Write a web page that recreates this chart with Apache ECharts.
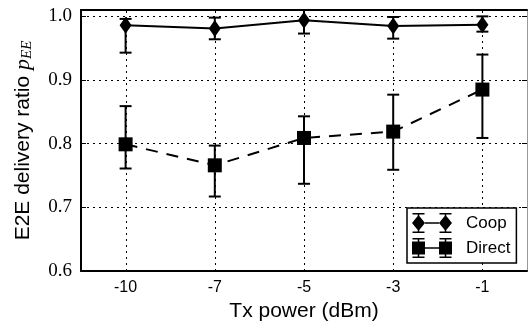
<!DOCTYPE html>
<html>
<head>
<meta charset="utf-8">
<script src="https://cdn.jsdelivr.net/npm/echarts@6/dist/echarts.min.js"></script>
<style>
  html, body { margin: 0; padding: 0; background: #fff; }
  #chart { width: 528px; height: 327px; }
</style>
</head>
<body>
<div id="chart"></div>
<script>
// Tx power levels (dBm)
const categories = ["-10", "-7", "-5", "-3", "-1"];

// Coop: mean and error bar ends
const coopMean = [0.986, 0.981, 0.994, 0.985, 0.987];
const coopLow = [0.943, 0.964, 0.973, 0.965, 0.976];
const coopHigh = [0.996, 0.998, 1.012, 0.999, 1.0];

// Direct: mean and error bar ends
const directMean = [0.799, 0.766, 0.809, 0.819, 0.885];
const directLow = [0.761, 0.717, 0.737, 0.759, 0.809];
const directHigh = [0.859, 0.797, 0.843, 0.877, 0.94];

const yMin = 0.6;
const yMax = 1.01;

const chart = echarts.init(document.getElementById("chart"));

// legend icons: marker - line - marker, with error bar caps
const coopIcon =
  "path://M0 10 L6.5 2 L13 10 L6.5 18 Z M27 10 L33.5 2 L40 10 L33.5 18 Z " +
  "M13 9.2 L27 9.2 L27 10.8 L13 10.8 Z " +
  "M0.5 0 L12.5 0 L12.5 1.5 L0.5 1.5 Z M27.5 0 L39.5 0 L39.5 1.5 L27.5 1.5 Z " +
  "M0.5 18.5 L12.5 18.5 L12.5 20 L0.5 20 Z M27.5 18.5 L39.5 18.5 L39.5 20 L27.5 20 Z " +
  "M5.75 0 L7.25 0 L7.25 20 L5.75 20 Z M32.75 0 L34.25 0 L34.25 20 L32.75 20 Z";
const directIcon =
  "path://M0 3.5 L13 3.5 L13 16.5 L0 16.5 Z M27 3.5 L40 3.5 L40 16.5 L27 16.5 Z " +
  "M13 9.2 L27 9.2 L27 10.8 L13 10.8 Z " +
  "M0.5 0 L12.5 0 L12.5 1.5 L0.5 1.5 Z M27.5 0 L39.5 0 L39.5 1.5 L27.5 1.5 Z " +
  "M0.5 18.5 L12.5 18.5 L12.5 20 L0.5 20 Z M27.5 18.5 L39.5 18.5 L39.5 20 L27.5 20 Z " +
  "M5.75 0 L7.25 0 L7.25 20 L5.75 20 Z M32.75 0 L34.25 0 L34.25 20 L32.75 20 Z";

function errorBars(params, api) {
  const i = api.value(0);
  const top = api.coord([i, api.value(2)]);
  const bot = api.coord([i, api.value(1)]);
  const w = 6;
  const st = { stroke: "#000", lineWidth: 2 };
  return {
    type: "group",
    children: [
      { type: "line", shape: { x1: top[0], y1: top[1], x2: bot[0], y2: bot[1] }, style: st },
      { type: "line", shape: { x1: top[0] - w, y1: top[1], x2: top[0] + w, y2: top[1] }, style: st },
      { type: "line", shape: { x1: bot[0] - w, y1: bot[1], x2: bot[0] + w, y2: bot[1] }, style: st },
    ],
  };
}

// dotted vertical grid line through each category
function vGrid(params, api) {
  const i = api.value(0);
  const a = api.coord([i, api.value(1)]);
  const b = api.coord([i, api.value(2)]);
  const x = Math.round(a[0]) + 0.5;
  return {
    type: "line",
    z2: 10,
    shape: { x1: x, y1: a[1], x2: x, y2: b[1] },
    style: { stroke: "#000", lineWidth: 1, lineDash: [2, 4], fill: null },
  };
}

const dotted = { color: "#000", width: 1, type: [2, 4] };

const option = {
  animation: false,
  grid: { left: 81, right: 1, top: 10, bottom: 56 },
  legend: {
    orient: "vertical",
    left: 407,
    top: 208,
    padding: [5, 6, 5, 5],
    itemWidth: 40,
    itemHeight: 20,
    itemGap: 5,
    borderColor: "#000",
    borderWidth: 1.5,
    borderRadius: 0,
    backgroundColor: "#fff",
    textStyle: { fontFamily: "Liberation Sans", fontSize: 17, color: "#000", padding: [0, 0, 0, 9] },
    data: [
      { name: "Coop", icon: coopIcon },
      { name: "Direct", icon: directIcon },
    ],
  },
  xAxis: [
    {
      type: "category",
      data: categories,
      boundaryGap: true,
      name: "Tx power (dBm)",
      nameLocation: "middle",
      nameGap: 30,
      nameTextStyle: { fontFamily: "Liberation Sans", fontSize: 21, color: "#000" },
      axisLine: { lineStyle: { color: "#000", width: 2 } },
      axisTick: { inside: true, alignWithLabel: true, length: 5, lineStyle: { color: "#000" } },
      axisLabel: { fontFamily: "Liberation Sans", fontSize: 16, color: "#000", margin: 9 },
      splitLine: { show: false },
    },
    {
      type: "category",
      data: categories,
      position: "top",
      boundaryGap: true,
      axisLine: { lineStyle: { color: "#000", width: 2 } },
      axisTick: { inside: true, alignWithLabel: true, length: 5, lineStyle: { color: "#000" } },
      axisLabel: { show: false },
      splitLine: { show: false },
    },
  ],
  yAxis: [
    {
      type: "value",
      min: yMin,
      max: yMax,
      interval: 0.1,
      name: "{a|E2E delivery ratio }{p|p}{s|EE}",
      nameLocation: "middle",
      nameGap: 46,
      nameRotate: 90,
      nameTextStyle: {
        rich: {
          a: { fontFamily: "Liberation Sans", fontSize: 21, color: "#000" },
          p: { fontFamily: "Liberation Serif", fontStyle: "italic", fontSize: 22, color: "#000" },
          s: { fontFamily: "Liberation Serif", fontStyle: "italic", fontSize: 15, color: "#000", padding: [8, 0, 0, 0] },
        },
      },
      axisLine: { show: true, lineStyle: { color: "#000", width: 2 } },
      axisTick: { show: true, inside: true, length: 5, lineStyle: { color: "#000" } },
      axisLabel: {
        fontFamily: "Liberation Serif",
        fontSize: 19,
        color: "#000",
        margin: 9,
        showMaxLabel: false,
        formatter: (v) => v.toFixed(1),
      },
      splitLine: { show: true, lineStyle: dotted },
    },
    {
      type: "value",
      position: "right",
      min: yMin,
      max: yMax,
      interval: 0.1,
      axisLine: { show: true, lineStyle: { color: "#999", width: 1 } },
      axisTick: { show: true, inside: true, length: 5, lineStyle: { color: "#000" } },
      axisLabel: { show: false },
      splitLine: { show: false },
    },
  ],
  series: [
    {
      name: "vgrid",
      type: "custom",
      z: 1,
      silent: true,
      renderItem: vGrid,
      encode: { x: 0, y: [1, 2] },
      data: categories.map((c, i) => [i, yMin, yMax]),
    },
    {
      name: "CoopErr",
      type: "custom",
      clip: true,
      z: 3,
      renderItem: errorBars,
      encode: { x: 0, y: [1, 2] },
      data: categories.map((c, i) => [i, coopLow[i], coopHigh[i]]),
    },
    {
      name: "DirectErr",
      type: "custom",
      clip: true,
      z: 3,
      renderItem: errorBars,
      encode: { x: 0, y: [1, 2] },
      data: categories.map((c, i) => [i, directLow[i], directHigh[i]]),
    },
    {
      name: "Coop",
      type: "line",
      z: 4,
      data: coopMean,
      symbol: "diamond",
      symbolSize: [12, 17],
      itemStyle: { color: "#000" },
      lineStyle: { color: "#000", width: 2 },
    },
    {
      name: "Direct",
      type: "line",
      z: 4,
      data: directMean,
      symbol: "rect",
      symbolSize: 14,
      itemStyle: { color: "#000" },
      lineStyle: { color: "#000", width: 2, type: [12, 9] },
    },
  ],
};

chart.setOption(option);
</script>
</body>
</html>
